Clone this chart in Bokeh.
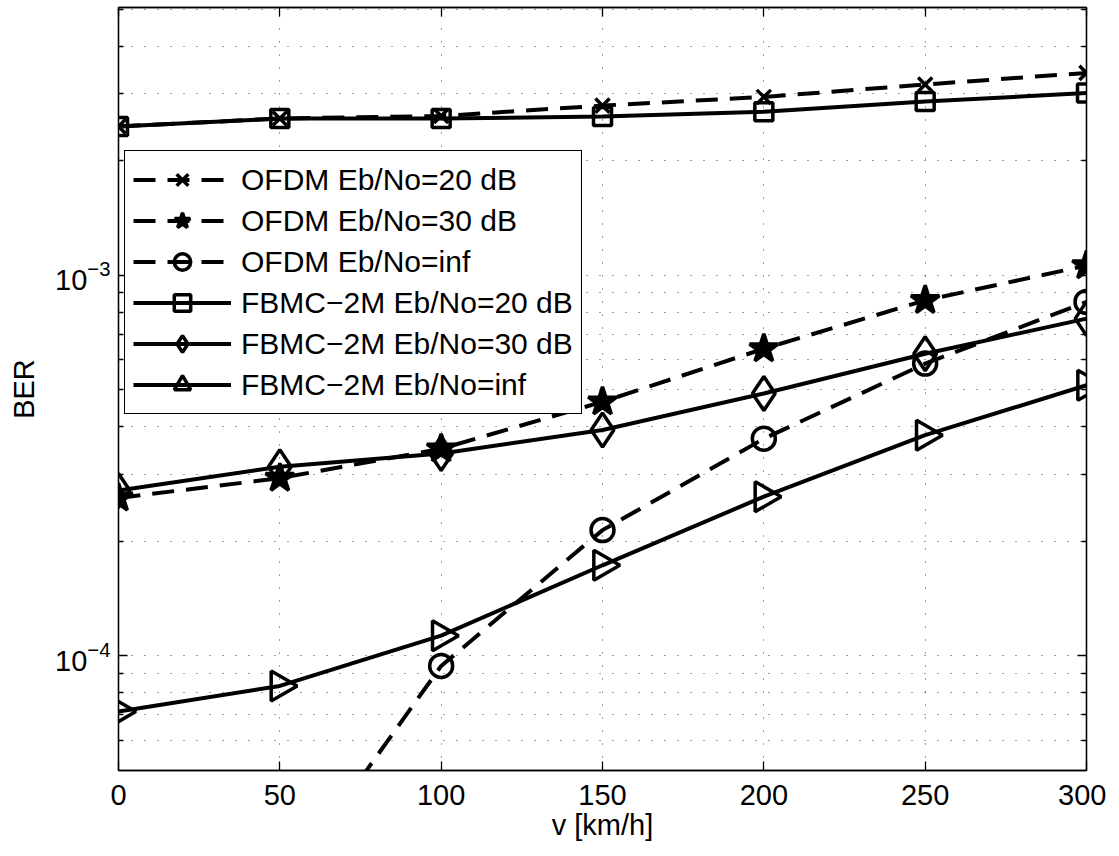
import numpy as np
from bokeh.plotting import figure
from bokeh.models import (LogAxis, LinearAxis, FixedTicker, Legend, LegendItem,
                          Range1d, CustomJSTickFormatter)
from bokeh.embed import file_html
from bokeh.resources import INLINE

# ---------------- data ----------------
speed = [0, 50, 100, 150, 200, 250, 300]
ofdm_20 = [2.46e-3, 2.58e-3, 2.62e-3, 2.79e-3, 2.94e-3, 3.17e-3, 3.40e-3]
ofdm_30 = [2.60e-4, 2.93e-4, 3.50e-4, 4.65e-4, 6.41e-4, 8.59e-4, 1.06e-3]
ofdm_inf = [np.nan, 2.4e-5, 9.41e-5, 2.14e-4, 3.72e-4, 5.86e-4, 8.51e-4]
fbmc_20 = [2.46e-3, 2.58e-3, 2.58e-3, 2.61e-3, 2.69e-3, 2.86e-3, 3.01e-3]
fbmc_30 = [2.72e-4, 3.14e-4, 3.40e-4, 3.92e-4, 4.89e-4, 6.22e-4, 7.69e-4]
fbmc_inf = [7.14e-5, 8.34e-5, 1.13e-4, 1.73e-4, 2.62e-4, 3.80e-4, 5.14e-4]

labels = ["OFDM Eb/No=20 dB", "OFDM Eb/No=30 dB", "OFDM Eb/No=inf",
          "FBMC\u22122M Eb/No=20 dB", "FBMC\u22122M Eb/No=30 dB", "FBMC\u22122M Eb/No=inf"]

x_ticks = [0, 50, 100, 150, 200, 250, 300]
y_major_ticks = [1e-4, 1e-3]
y_minor_ticks = [6e-5, 7e-5, 8e-5, 9e-5,
                 2e-4, 3e-4, 4e-4, 5e-4, 6e-4, 7e-4, 8e-4, 9e-4,
                 2e-3, 3e-3, 4e-3, 5e-3]

FONT = "Liberation Sans"
FS = "29px"

p = figure(frame_width=968, frame_height=763, y_axis_type="log",
           x_range=Range1d(0, 300), y_range=Range1d(5.0e-5, 5.05e-3),
           output_backend="svg", toolbar_location=None,
           min_border_left=118, min_border_right=20,
           min_border_top=7, min_border_bottom=60)
p.background_fill_color = "white"
p.border_fill_color = "white"
p.outline_line_color = "black"
p.outline_line_width = 1.3
p.outline_line_alpha = 1.0

xt = FixedTicker(ticks=x_ticks)
yt = FixedTicker(ticks=y_major_ticks, minor_ticks=y_minor_ticks)

# bottom / left axes
xa = p.xaxis[0]
xa.ticker = xt
ya = p.yaxis[0]
ya.ticker = yt
for ax in (xa, ya):
    ax.axis_line_color = "black"
    ax.axis_line_width = 1.3
    ax.major_tick_in = 9
    ax.major_tick_out = 0
    ax.minor_tick_in = 5
    ax.minor_tick_out = 0
    ax.major_tick_line_width = 1.3
    ax.minor_tick_line_width = 1.3
    ax.major_label_text_font = FONT
    ax.major_label_text_font_size = FS
    ax.major_label_text_color = "black"
    ax.axis_label_text_font = FONT
    ax.axis_label_text_font_size = FS
    ax.axis_label_text_font_style = "normal"
    ax.axis_label_text_color = "black"
xa.minor_tick_in = 0
xa.axis_label = "v [km/h]"
xa.major_label_standoff = 14
xa.axis_label_standoff = 1
ya.axis_label = "BER"
ya.major_label_standoff = 8
ya.axis_label_standoff = 12

# mirrored axes (ticks only)
top = LinearAxis(ticker=xt, formatter=CustomJSTickFormatter(code="return ''"),
                 major_tick_in=9, major_tick_out=0, minor_tick_in=0, minor_tick_out=0,
                 major_label_standoff=0, axis_line_color="black", axis_line_width=1.3,
                 major_tick_line_width=1.3)
right = LogAxis(ticker=yt, formatter=CustomJSTickFormatter(code="return ''"),
                major_tick_in=9, major_tick_out=0, minor_tick_in=5, minor_tick_out=0,
                major_label_standoff=0, axis_line_color="black", axis_line_width=1.3,
                major_tick_line_width=1.3, minor_tick_line_width=1.3)
p.add_layout(top, "above")
p.add_layout(right, "right")

# grid
for g in (p.xgrid[0], p.ygrid[0]):
    g.grid_line_color = "black"
    g.grid_line_alpha = 0.75
    g.grid_line_width = 1
    g.grid_line_dash = "1 12"
p.xgrid[0].ticker = xt
p.ygrid[0].ticker = yt
p.ygrid[0].minor_grid_line_color = "black"
p.ygrid[0].minor_grid_line_alpha = 0.75
p.ygrid[0].minor_grid_line_width = 1
p.ygrid[0].minor_grid_line_dash = "1 12"

LW = 4
DASH = "22 12"

series = [
    (ofdm_20, DASH, dict(marker="x", size=20, fill_color=None)),
    (ofdm_30, DASH, dict(marker="star", size=30, fill_color="black")),
    (ofdm_inf, DASH, dict(marker="circle", size=23, fill_color=None)),
    (fbmc_20, "solid", dict(marker="square", size=18, fill_color=None)),
    (fbmc_30, "solid", dict(marker="diamond", size=34, fill_color=None)),
    (fbmc_inf, "solid", dict(marker="triangle", size=30, fill_color=None, angle=-np.pi / 2)),
]

items = []
for (vals, dash, mk), lab in zip(series, labels):
    y = np.array(vals, dtype=float)
    lr = p.line(speed, y, line_color="black", line_width=LW, line_dash=dash)
    sr = p.scatter(speed, y, line_color="black", line_width=3.5, **mk)
    items.append(LegendItem(label=lab, renderers=[lr, sr]))

legend = Legend(items=items, location=(6, 356))
legend.label_text_font = FONT
legend.label_text_font_size = "30px"
legend.label_text_color = "black"
legend.border_line_color = "black"
legend.border_line_width = 1.3
legend.border_line_alpha = 1.0
legend.background_fill_color = "white"
legend.background_fill_alpha = 1.0
legend.padding = 8
legend.spacing = 0
legend.glyph_width = 98
legend.glyph_height = 41
legend.label_standoff = 10
legend.margin = 0
p.add_layout(legend)

open("out.html", "w").write(file_html(p, INLINE))
